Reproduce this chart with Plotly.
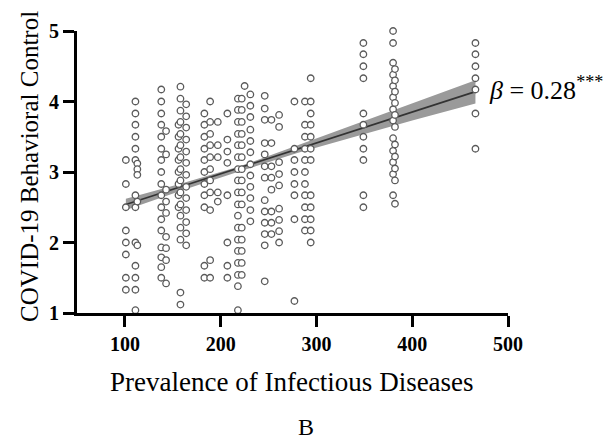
import plotly.graph_objects as go

# ---- data: COVID-19 behavioral control by prevalence of infectious diseases ----
col_x = [101, 111, 113, 138, 143, 156, 158, 164, 183, 189, 197, 207, 218, 222, 225,
         231, 246, 253, 261, 277, 288, 294, 349, 380, 382, 466]

c101 = [3.17, 2.83, 2.5, 2.17, 2.0, 1.83, 1.5, 1.33]
c111 = [4.0, 3.83, 3.67, 3.5, 3.33, 3.17, 2.67, 2.5, 2.0, 1.67, 1.5, 1.33, 1.04]
c113 = [3.12, 3.04, 2.96, 2.58, 1.96]
c138 = [4.17, 4.0, 3.83, 3.67, 3.5, 3.33, 3.17, 3.0, 2.83, 2.67, 2.5, 2.33, 2.17, 1.93, 1.79, 1.65, 1.5]
c143 = [3.58, 3.25, 2.75, 2.58, 2.42, 2.08, 1.92, 1.75, 1.42]
c156 = [3.67, 3.5, 3.33, 3.17, 3.0, 2.83, 2.67, 2.5]
c158 = [4.21, 4.04, 3.87, 3.71, 3.54, 3.38, 3.21, 3.04, 2.88, 2.71, 2.54, 2.38, 2.21, 2.04, 1.29, 1.12]
c164 = [3.96, 3.79, 3.63, 3.46, 3.29, 3.13, 2.96, 2.79, 2.63, 2.46, 2.29, 2.13, 1.96]
c183 = [3.83, 3.67, 3.5, 3.33, 3.17, 3.0, 2.83, 2.67, 2.5, 1.67, 1.5]
c189 = [4.0, 3.71, 3.54, 3.38, 3.21, 3.04, 2.88, 2.71, 2.46, 1.75, 1.5]
c197 = [3.71, 3.38, 3.21, 2.71, 2.58]
c207 = [3.83, 3.46, 3.29, 3.13, 2.67, 2.0, 1.67, 1.5]
c218 = [4.04, 3.88, 3.71, 3.54, 3.38, 3.21, 3.04, 2.88, 2.71, 2.54, 2.38, 2.21, 2.04, 1.88, 1.71, 1.54, 1.38, 1.04]
c222 = [4.04, 3.88, 3.71, 3.54, 3.38, 3.21, 3.04, 2.88, 2.71, 2.54, 2.21, 2.04, 1.88, 1.71, 1.54]
c225 = [4.22]
c231 = [4.1, 3.94, 3.78, 3.6, 3.44, 3.28, 3.11, 2.95, 2.79, 2.63, 2.46, 2.3]
c246 = [4.08, 3.9, 3.74, 3.41, 3.25, 3.08, 2.92, 2.6, 2.44, 2.28, 2.12, 1.96, 1.45]
c253 = [3.74, 3.41, 3.08, 2.92, 2.75, 2.44, 2.28, 2.12]
c261 = [3.81, 3.64, 3.14, 2.97, 2.81, 2.48, 2.32, 2.16, 2.0]
c277 = [4.0, 3.33, 3.17, 3.0, 2.83, 2.67, 2.33, 1.17]
c288 = [4.0, 3.67, 3.5, 3.33, 3.17, 3.0, 2.83, 2.67, 2.5, 2.33, 2.17]
c294 = [4.33, 4.0, 3.83, 3.67, 3.5, 3.33, 3.17, 2.67, 2.5, 2.33, 2.17, 2.0]
c349 = [4.83, 4.67, 4.5, 4.33, 3.83, 3.67, 3.5, 3.33, 3.17, 2.67, 2.5]
c380 = [5.0, 4.83, 4.55, 4.38, 4.22, 4.06, 3.89, 3.73, 3.48, 3.3, 3.14, 2.97, 2.67]
c382 = [4.46, 4.3, 4.14, 3.98, 3.81, 3.64, 3.39, 3.22, 3.05, 2.88, 2.55]
c466 = [4.83, 4.67, 4.5, 4.33, 4.17, 3.83, 3.33]

col_y = [c101, c111, c113, c138, c143, c156, c158, c164, c183, c189, c197, c207, c218,
         c222, c225, c231, c246, c253, c261, c277, c288, c294, c349, c380, c382, c466]

# regression fit line and 95% CI band
fit_x = [101, 466]
fit_y = [2.54, 4.14]
band_x = [101, 160, 220, 280, 340, 400, 466]
band_hi = [2.62, 2.84, 3.08, 3.38, 3.67, 3.98, 4.30]
band_lo = [2.46, 2.74, 3.01, 3.27, 3.50, 3.73, 3.97]

x_ticks = [100, 200, 300, 400, 500]
y_ticks = [1, 2, 3, 4, 5]

FONT = "Liberation Serif"

xs, ys = [], []
for xv, yl in zip(col_x, col_y):
    for yv in yl:
        xs.append(xv)
        ys.append(yv)

fig = go.Figure()
fig.add_trace(go.Scatter(
    x=band_x + band_x[::-1], y=band_hi + band_lo[::-1],
    fill="toself", fillcolor="#9a9a9a", line=dict(width=0),
    mode="lines", hoverinfo="skip", showlegend=False))
fig.add_trace(go.Scatter(
    x=fit_x, y=fit_y, mode="lines",
    line=dict(color="#333333", width=1.6), showlegend=False))
fig.add_trace(go.Scatter(
    x=xs, y=ys, mode="markers", cliponaxis=False,
    marker=dict(symbol="circle", size=6.5, color="white",
                line=dict(color="#5a5a5a", width=1.3)),
    showlegend=False))

axis_common = dict(
    showline=True, linecolor="black", linewidth=3,
    ticks="outside", ticklen=11, tickwidth=3, tickcolor="black",
    showgrid=False, zeroline=False,
    tickfont=dict(family=FONT, size=20, color="black", weight="bold"),
)
fig.update_xaxes(range=[50, 500], tickvals=x_ticks, **axis_common)
fig.update_yaxes(range=[1, 5], tickvals=y_ticks, **axis_common)

fig.update_layout(
    width=613, height=445, autosize=False,
    margin=dict(l=69, r=113, t=17, b=140),
    plot_bgcolor="white", paper_bgcolor="white",
    font=dict(family=FONT, color="black"),
    annotations=[
        dict(text="COVID-19 Behavioral Control", textangle=-90,
             xref="paper", yref="paper", x=-0.109, y=0.518,
             xanchor="center", yanchor="middle", showarrow=False,
             font=dict(family=FONT, size=25, color="black")),
        dict(text="Prevalence of Infectious Diseases",
             xref="paper", yref="paper", x=0.498, y=-0.243,
             xanchor="center", yanchor="middle", showarrow=False,
             font=dict(family=FONT, size=27, color="black")),
        dict(text="B",
             xref="paper", yref="paper", x=0.531, y=-0.403,
             xanchor="center", yanchor="middle", showarrow=False,
             font=dict(family=FONT, size=24, color="black")),
        dict(text="<i>β</i> = 0.28<sup>***</sup>",
             xref="paper", yref="paper", x=0.951, y=0.795,
             xanchor="left", yanchor="middle", showarrow=False,
             font=dict(family=FONT, size=26, color="black")),
    ],
)

fig.write_html("out.html")
